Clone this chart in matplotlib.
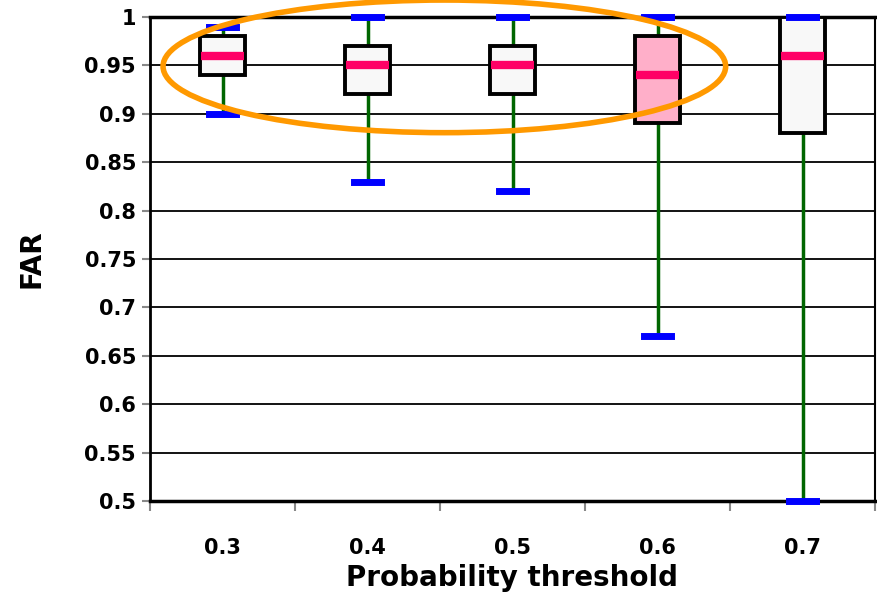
import matplotlib.pyplot as plt
from matplotlib.patches import Ellipse

thresholds = ['0.3', '0.4', '0.5', '0.6', '0.7']
whis_low = [0.90, 0.83, 0.82, 0.67, 0.50]
q1 = [0.94, 0.92, 0.92, 0.89, 0.88]
med = [0.96, 0.95, 0.95, 0.94, 0.96]
q3 = [0.98, 0.97, 0.97, 0.98, 1.00]
whis_high = [0.99, 1.00, 1.00, 1.00, 1.00]
box_colors = ['#f8f8f8', '#f8f8f8', '#f8f8f8', '#ffafc9', '#f8f8f8']

stats = []
for i in range(len(thresholds)):
    stats.append({'whislo': whis_low[i], 'q1': q1[i], 'med': med[i],
                  'q3': q3[i], 'whishi': whis_high[i], 'fliers': []})

plt.rcParams['font.family'] = 'DejaVu Sans'
plt.rcParams['font.weight'] = 'bold'

fig = plt.figure(figsize=(8.77, 5.96), dpi=100)
ax = fig.add_axes([150 / 877, 95 / 596, 725 / 877, 484 / 596])

pos = list(range(len(thresholds)))
bp = ax.bxp(stats, positions=pos, widths=0.31, patch_artist=True,
            showfliers=False, capwidths=0.19,
            boxprops=dict(edgecolor='black', linewidth=2.8),
            whiskerprops=dict(color='#006600', linewidth=2.5),
            capprops=dict(color='#0000ff', linewidth=5),
            medianprops=dict(color='#ff0066', linewidth=6, solid_capstyle='butt'))
for box, c in zip(bp['boxes'], box_colors):
    box.set_facecolor(c)
    box.set_zorder(3)
for line in bp['whiskers']:
    line.set_zorder(2)
for line in bp['caps']:
    line.set_zorder(5)
    line.set_clip_on(False)
for line in bp['medians']:
    line.set_zorder(4)
    x0, x1 = line.get_xdata()[:2]
    line.set_xdata([x0 + 0.005, x1 - 0.005])

ax.set_xlim(-0.5, 4.5)
ax.set_ylim(0.5, 1.0)
ax.set_yticks([0.5, 0.55, 0.6, 0.65, 0.7, 0.75, 0.8, 0.85, 0.9, 0.95, 1.0])
ax.set_yticklabels(['0.5', '0.55', '0.6', '0.65', '0.7', '0.75', '0.8',
                    '0.85', '0.9', '0.95', '1'])
ax.yaxis.grid(True, color='black', linewidth=1.3)
ax.set_axisbelow(True)

ax.set_xticks([p + 0.5 for p in [-1] + pos])
ax.set_xticklabels([])
ax.set_xticks(pos, minor=True)
ax.set_xticklabels(thresholds, minor=True)
ax.tick_params(axis='x', which='minor', length=0, pad=27, labelsize=15)
ax.tick_params(axis='x', which='major', length=7, width=1.5, color='#888888')
ax.tick_params(axis='y', length=6, width=1.5, color='#888888', labelsize=15, pad=4)

for side in ['top', 'bottom']:
    ax.spines[side].set_linewidth(2.5)
ax.spines['left'].set_linewidth(2)
ax.spines['right'].set_linewidth(1.5)

ax.set_xlabel('Probability threshold', fontsize=20, fontweight='bold', labelpad=4)
ax.set_ylabel('FAR', fontsize=20, fontweight='bold', labelpad=28)

ell = Ellipse((1.53, 0.949), 3.88, 0.137, fill=False, edgecolor='#ff9900',
              linewidth=4, zorder=6, clip_on=False)
ax.add_patch(ell)

fig.savefig('out.png', dpi=100)
